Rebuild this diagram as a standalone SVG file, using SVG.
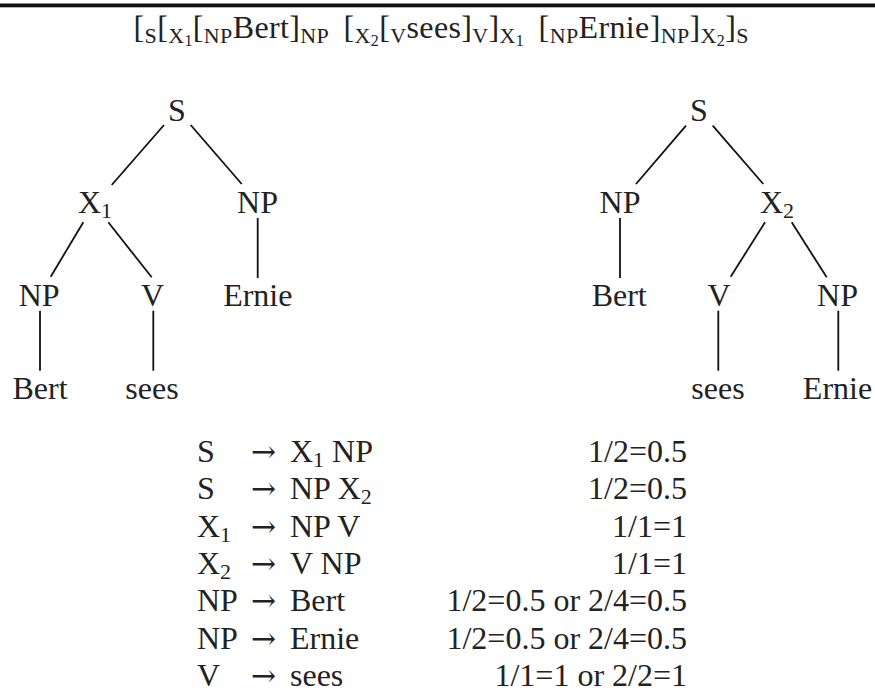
<svg xmlns="http://www.w3.org/2000/svg" width="875" height="694" viewBox="0 0 875 694">
<style>
text{font-family:'Liberation Serif',serif;font-size:32px;fill:#222;}
.lbl{text-anchor:middle;}
.r{text-anchor:end;}
.s{font-size:22px;}
.ss{font-size:16px;}
.ar{font-family:'DejaVu Serif',serif;font-size:30px;}
.e{stroke:#111;stroke-width:1.8;}
</style>
<rect x="0" y="3.5" width="875" height="3.8" fill="#111"/>
<g id="bracketed">
<text x="441" y="38" text-anchor="middle" textLength="615" lengthAdjust="spacing">[<tspan class="s" dy="5">S</tspan><tspan dy="-5">[</tspan><tspan class="s" dy="5">X</tspan><tspan class="ss" dy="3">1</tspan><tspan dy="-8">[</tspan><tspan class="s" dy="5">NP</tspan><tspan dy="-5">Bert]</tspan><tspan class="s" dy="5">NP</tspan><tspan dy="-5" dx="6"> [</tspan><tspan class="s" dy="5">X</tspan><tspan class="ss" dy="3">2</tspan><tspan dy="-8">[</tspan><tspan class="s" dy="5">V</tspan><tspan dy="-5">sees]</tspan><tspan class="s" dy="5">V</tspan><tspan dy="-5">]</tspan><tspan class="s" dy="5">X</tspan><tspan class="ss" dy="3">1</tspan><tspan dy="-8" dx="6"> [</tspan><tspan class="s" dy="5">NP</tspan><tspan dy="-5">Ernie]</tspan><tspan class="s" dy="5">NP</tspan><tspan dy="-5">]</tspan><tspan class="s" dy="5">X</tspan><tspan class="ss" dy="3">2</tspan><tspan dy="-8">]</tspan><tspan class="s" dy="5">S</tspan></text>
</g>
<g id="connectors">
<line class="e" x1="164" y1="125" x2="111.7" y2="185"/>
<line class="e" x1="190.7" y1="125" x2="241.7" y2="184"/>
<line class="e" x1="83.3" y1="222.3" x2="50.7" y2="276.7"/>
<line class="e" x1="108.3" y1="222.3" x2="151.7" y2="277.3"/>
<line class="e" x1="257.7" y1="218" x2="257.7" y2="278"/>
<line class="e" x1="40" y1="310.7" x2="40" y2="370.7"/>
<line class="e" x1="153.3" y1="310.7" x2="153.3" y2="370.7"/>
<line class="e" x1="686" y1="125.7" x2="636" y2="184"/>
<line class="e" x1="712.7" y1="125.7" x2="763.3" y2="184"/>
<line class="e" x1="620" y1="218" x2="620" y2="278"/>
<line class="e" x1="765" y1="222.3" x2="730.7" y2="276.7"/>
<line class="e" x1="791.7" y1="222.3" x2="826.7" y2="277.3"/>
<line class="e" x1="718.3" y1="310.7" x2="718.3" y2="370.7"/>
<line class="e" x1="838.3" y1="310.7" x2="838.3" y2="370.7"/>
</g>
<g id="L_S"><text class="lbl" x="177" y="121">S</text></g>
<g id="L_X1"><text x="78" y="213">X<tspan class="s" dy="5">1</tspan></text></g>
<g id="L_NP_top"><text class="lbl" x="257.5" y="213">NP</text></g>
<g id="L_NP"><text class="lbl" x="39.2" y="306">NP</text></g>
<g id="L_V"><text class="lbl" x="152.5" y="306">V</text></g>
<g id="L_Ernie"><text class="lbl" x="257.8" y="306">Ernie</text></g>
<g id="L_Bert"><text class="lbl" x="40" y="398.5">Bert</text></g>
<g id="L_sees"><text class="lbl" x="152" y="398.5">sees</text></g>
<g id="R_S"><text class="lbl" x="699" y="121">S</text></g>
<g id="R_NP_top"><text class="lbl" x="620" y="213">NP</text></g>
<g id="R_X2"><text x="760" y="213">X<tspan class="s" dy="5">2</tspan></text></g>
<g id="R_Bert"><text class="lbl" x="619.2" y="306">Bert</text></g>
<g id="R_V"><text class="lbl" x="719" y="306">V</text></g>
<g id="R_NP"><text class="lbl" x="837.5" y="306">NP</text></g>
<g id="R_sees"><text class="lbl" x="718" y="398.5">sees</text></g>
<g id="R_Ernie"><text class="lbl" x="837.5" y="398.5">Ernie</text></g>
<g id="rules">
<text x="197" y="462">S</text><text class="ar" x="251" y="462">→</text><text x="290" y="462">X<tspan class="s" dy="5">1</tspan><tspan dy="-5"> NP</tspan></text><text class="r" x="687" y="462">1/2=0.5</text>
<text x="197" y="499.3">S</text><text class="ar" x="251" y="499.3">→</text><text x="290" y="499.3">NP X<tspan class="s" dy="5">2</tspan></text><text class="r" x="687" y="499.3">1/2=0.5</text>
<text x="197" y="536.6">X<tspan class="s" dy="5">1</tspan></text><text class="ar" x="251" y="536.6">→</text><text x="290" y="536.6">NP V</text><text class="r" x="687" y="536.6">1/1=1</text>
<text x="197" y="573.9">X<tspan class="s" dy="5">2</tspan></text><text class="ar" x="251" y="573.9">→</text><text x="290" y="573.9">V NP</text><text class="r" x="687" y="573.9">1/1=1</text>
<text x="197" y="611.2">NP</text><text class="ar" x="251" y="611.2">→</text><text x="290" y="611.2">Bert</text><text class="r" x="687" y="611.2">1/2=0.5 or 2/4=0.5</text>
<text x="197" y="648.5">NP</text><text class="ar" x="251" y="648.5">→</text><text x="290" y="648.5">Ernie</text><text class="r" x="687" y="648.5">1/2=0.5 or 2/4=0.5</text>
<text x="197" y="685.8">V</text><text class="ar" x="251" y="685.8">→</text><text x="290" y="685.8">sees</text><text class="r" x="687" y="685.8">1/1=1 or 2/2=1</text>
</g>
</svg>
